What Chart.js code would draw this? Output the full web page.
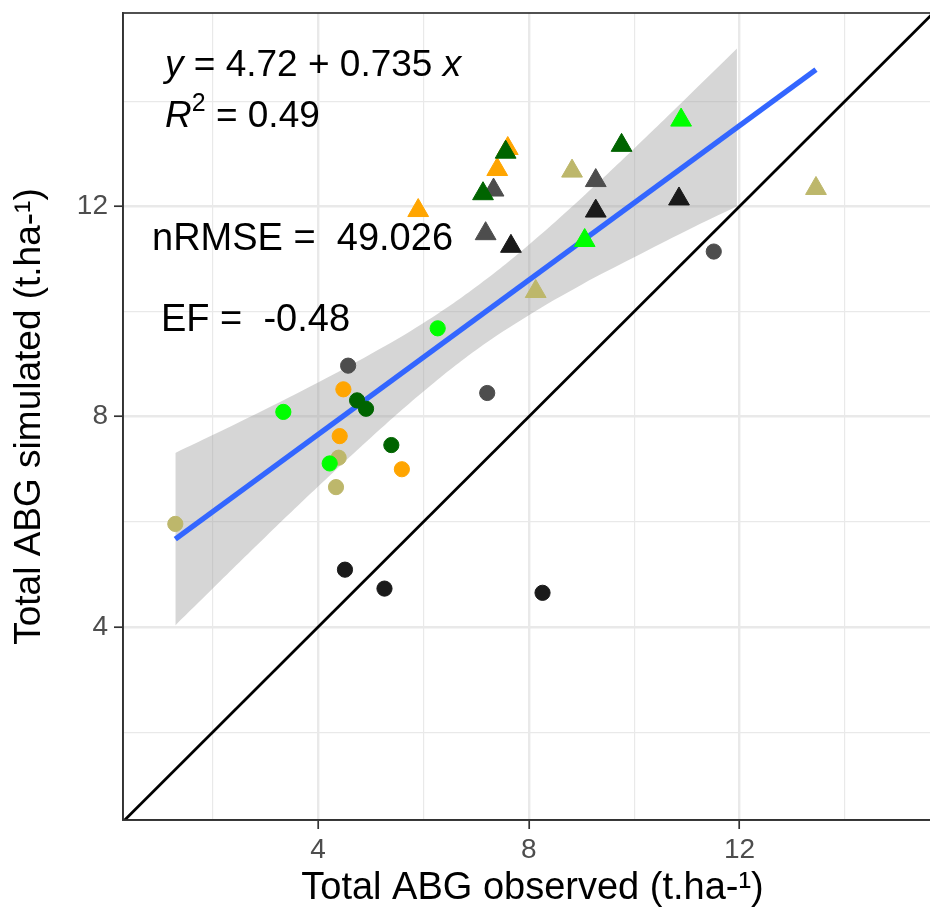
<!DOCTYPE html>
<html><head><meta charset="utf-8">
<script src="https://cdn.jsdelivr.net/npm/chart.js@4.4.0/dist/chart.umd.min.js"></script>
<style>
html,body{margin:0;padding:0;background:#fff;overflow:hidden;width:930px;height:911px}
#wrap{position:absolute;left:0;top:0;width:955px;height:911px}
</style>
</head><body><div id="wrap"><canvas id="c" width="955" height="911"></canvas></div>
<script>
// ---- data ----
const observed  = [1.29,3.34,4.57,4.48,4.74,4.91,4.41,4.39,4.22,5.39,5.59,4.34,4.51,5.26,8.26,11.51,6.27,7.21,
                   5.90,7.13,7.33,7.40,7.56,7.60,7.18,7.66,8.82,9.27,9.76,10.89,9.27,10.85,9.06,8.13,13.45];
const simulated = [5.96,8.09,8.97,8.52,8.31,8.15,7.63,7.22,7.11,7.46,7.00,6.66,5.09,4.73,4.65,11.14,9.68,8.45,
                   11.92,12.24,12.31,12.70,13.03,13.10,11.48,11.24,12.67,12.49,13.16,13.64,11.91,12.14,11.35,10.38,12.34];
const group = ['khaki','lime','dkgray','orange','dkgreen','dkgreen','orange','khaki','lime','dkgreen','orange','khaki','black','black','black','dkgray','lime','dkgray',
               'orange','dkgreen','dkgray','orange','dkgreen','orange','dkgray','black','khaki','dkgray','dkgreen','lime','black','black','lime','khaki','khaki'];
const shape = ['circle','circle','circle','circle','circle','circle','circle','circle','circle','circle','circle','circle','circle','circle','circle','circle','circle','circle',
               'triangle','triangle','triangle','triangle','triangle','triangle','triangle','triangle','triangle','triangle','triangle','triangle','triangle','triangle','triangle','triangle','triangle'];
const groupNames = ['dkgreen','lime','black','dkgray','khaki','orange']; // top-most first
const groupColors = {dkgreen:'#006400', lime:'#00FF00', black:'#1A1A1A', dkgray:'#4D4D4D', khaki:'#BDB76B', orange:'#FFA500'};

const fitX = [1.29, 13.45];
const fitY = [5.67, 14.60];
const bandX     = [1.29, 2, 3, 4, 5, 6, 7, 8, 9, 10, 11, 11.95];
const bandUpper = [7.31, 7.65, 8.14, 8.65, 9.19, 9.78, 10.47, 11.27, 12.16, 13.10, 14.07, 15.00];
const bandLower = [4.03, 4.73, 5.71, 6.67, 7.60, 8.48, 9.27, 9.93, 10.51, 11.03, 11.54, 12.00];
const identity = [0, 16];

const xTicks = [2,4,6,8,10,12,14];
const yTicks = [2,4,6,8,10,12,14];
const majorTicks = [4,8,12];

const eqText = {intercept:'4.72', slope:'0.735', r2:'0.49', nrmse:'49.026', ef:'-0.48'};

// ---- build datasets ----
const FONT = '"Liberation Sans", Arial, Helvetica, sans-serif';
const datasets = [];
groupNames.forEach(g => {
  ['triangle','circle'].forEach(s => {
    const pts = [];
    observed.forEach((x,i) => { if (group[i]===g && shape[i]===s) pts.push({x:x, y:simulated[i]}); });
    if (!pts.length) return;
    datasets.push({
      type:'scatter', data: pts, pointStyle: s,
      pointRadius: s==='circle' ? 7.6 : 12, borderWidth: 1,
      backgroundColor: groupColors[g], borderColor: groupColors[g]
    });
  });
});
datasets.push({type:'line', data: fitX.map((x,i)=>({x:x,y:fitY[i]})), borderColor:'#3366FF', borderWidth:5.4, pointRadius:0, fill:false, tension:0});
datasets.push({type:'line', data: identity.map(v=>({x:v,y:v})), borderColor:'#000000', borderWidth:2.8, pointRadius:0, fill:false, tension:0});
datasets.push({type:'line', data: bandX.map((x,i)=>({x:x,y:bandUpper[i]})), borderWidth:0, borderColor:'rgba(0,0,0,0)', pointRadius:0, tension:0.4,
               fill:'+1', backgroundColor:'rgba(153,153,153,0.4)'});
datasets.push({type:'line', data: bandX.map((x,i)=>({x:x,y:bandLower[i]})), borderWidth:0, borderColor:'rgba(0,0,0,0)', pointRadius:0, tension:0.4, fill:false});

const isMajor = v => majorTicks.includes(v);
function gridOpts(){
  return {
    color:'#E9E9E9',
    lineWidth: c => (c.tick && isMajor(c.tick.value)) ? 2.4 : 1.2,
    tickColor: c => (c.tick && isMajor(c.tick.value)) ? '#333333' : 'rgba(0,0,0,0)',
    tickLength: 9, tickWidth: 1.7, drawTicks: true
  };
}

const annot = {
  id:'annot',
  afterDraw(chart){
    const ctx = chart.ctx;
    const a = chart.chartArea;
    ctx.save();
    // panel border
    ctx.strokeStyle = '#333333'; ctx.lineWidth = 1.7;
    ctx.strokeRect(a.left, a.top, a.right - a.left, a.bottom - a.top);
    ctx.fillStyle = '#000'; ctx.textBaseline = 'alphabetic'; ctx.textAlign = 'left';
    const reg = F => 'normal ' + F + 'px ' + FONT, ita = F => 'italic ' + F + 'px ' + FONT;
    const seq = (parts, x, y) => {
      parts.forEach(p => { ctx.font = p[0]; ctx.fillText(p[1], x, y + (p[2]||0)); x += ctx.measureText(p[1]).width; });
    };
    seq([[ita(37),'y'],[reg(37),' = ' + eqText.intercept + ' + ' + eqText.slope + ' '],[ita(37),'x']], 165, 76);
    seq([[ita(37),'R'],['normal 25px ' + FONT,'2',-16],[reg(37),' = ' + eqText.r2]], 165, 127);
    seq([[reg(38),'nRMSE =  ' + eqText.nrmse]], 152, 250);
    seq([[reg(38),'EF =  ' + eqText.ef]], 161, 331);
    ctx.restore();
  }
};

new Chart(document.getElementById('c'), {
  type:'scatter',
  data:{datasets},
  options:{
    responsive:false, animation:false, devicePixelRatio:1,
    layout:{padding:{top:9,right:5,left:0,bottom:0}},
    plugins:{legend:{display:false}, tooltip:{enabled:false}},
    scales:{
      x:{type:'linear', min:0.297, max:15.842,
         afterBuildTicks: s => { s.ticks = xTicks.map(v=>({value:v})); },
         afterFit: s => { s.height = 91; s.paddingLeft = 0; s.paddingRight = 0; },
         ticks:{autoSkip:false, maxRotation:0, padding:4, color:'#4D4D4D', font:{family:FONT,size:28},
                callback: v => isMajor(v) ? String(v) : ''},
         grid:gridOpts(),
         border:{display:true, color:'#333333', width:1.7},
         title:{display:true, text:'Total ABG observed (t.ha-¹)', color:'#000', font:{family:FONT,size:38}, padding:{top:0,bottom:0}}
      },
      y:{type:'linear', min:0.329, max:15.677,
         afterBuildTicks: s => { s.ticks = yTicks.map(v=>({value:v})); },
         afterFit: s => { s.width = 123; s.paddingTop = 0; s.paddingBottom = 0; },
         ticks:{autoSkip:false, padding:6, color:'#4D4D4D', font:{family:FONT,size:28},
                callback: v => isMajor(v) ? String(v) : ''},
         grid:gridOpts(),
         border:{display:true, color:'#333333', width:1.7},
         title:{display:true, text:'Total ABG simulated (t.ha-¹)', color:'#000', font:{family:FONT,size:37}, padding:{top:8,bottom:0}}
      }
    }
  },
  plugins:[annot]
});
</script></body></html>
